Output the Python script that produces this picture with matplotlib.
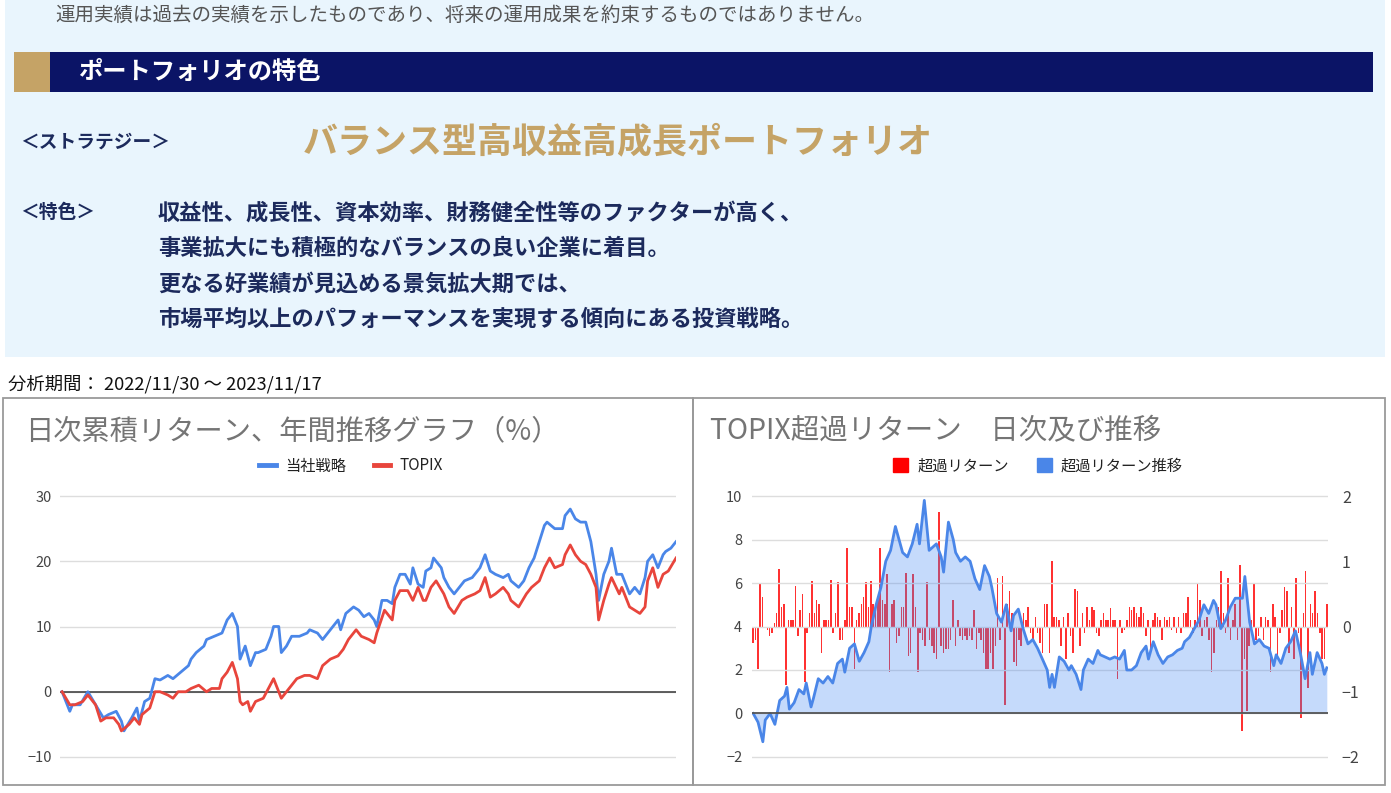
import numpy as np
import matplotlib.pyplot as plt
from matplotlib.patches import Rectangle, Patch
from matplotlib.lines import Line2D

plt.rcParams['font.family'] = ['Noto Sans CJK JP', 'DejaVu Sans']

# ---- data ----
strat_day = [0, 3, 4, 7, 10, 13, 16, 18, 21, 23, 24, 27, 29, 30, 32, 34, 36, 38, 41, 43,
             46, 49, 50, 52, 55, 56, 59, 62, 64, 66, 68, 69, 71, 73, 75, 76, 79, 81, 82, 84,
             85, 87, 89, 92, 95, 96, 99, 101, 103, 105, 107, 108, 110, 113, 115, 117, 119, 121, 122, 124,
             126, 128, 129, 131, 133, 135, 136, 138, 140, 141, 143, 144, 147, 148, 150, 152, 154, 156, 159, 161,
             162, 164, 166, 168, 171, 173, 174, 177, 179, 181, 183, 185, 187, 188, 191, 194, 195, 197, 199, 201,
             203, 205, 207, 208, 210, 212, 213, 215, 217, 219, 220, 222, 224, 226, 227, 229, 231, 233, 234, 236, 238]
strat_ret = [0, -3, -2, -2, 0, -2, -4, -3.5, -3, -4.5, -6, -4, -2.5, -4.5, -1.5, -1, 2, 1.8, 2.5, 2,
             3, 4, 5, 6, 7, 8, 8.5, 9, 11, 12, 10, 5, 7, 4, 6, 6, 6.5, 8.5, 10, 10,
             6, 7, 8.5, 8.5, 9, 9.5, 9, 8, 9, 10, 11, 9.5, 12, 13, 12.5, 11.5, 12, 11, 10, 14,
             14, 13.5, 16, 18, 18, 16.5, 19, 16.5, 16, 18.5, 19, 20.5, 19, 17.5, 16, 15, 16, 17, 17.5, 18.5,
             19, 21, 18.5, 18, 17.5, 18, 17, 16, 17, 19, 20.5, 23, 25.5, 26, 25, 25, 27, 28, 26.5, 26,
             26, 23, 18, 14, 18, 20, 22, 18, 18, 16, 15, 16, 15, 17.5, 20, 21, 19, 21, 21.5, 22, 23]

topix_day = [0, 3, 5, 8, 10, 13, 15, 17, 20, 22, 23, 26, 28, 30, 31, 34, 36, 38, 41, 43,
             45, 48, 50, 53, 56, 58, 61, 62, 64, 66, 68, 69, 70, 72, 73, 75, 78, 80, 82, 83,
             85, 87, 89, 91, 94, 96, 99, 101, 104, 107, 109, 111, 114, 116, 119, 121, 122, 125, 128, 129,
             131, 134, 136, 138, 140, 141, 143, 145, 148, 150, 152, 155, 157, 160, 162, 164, 166, 168, 171, 173,
             174, 177, 180, 182, 185, 187, 189, 191, 194, 195, 197, 199, 201, 203, 205, 207, 208, 210, 212, 213,
             216, 217, 219, 220, 222, 224, 226, 227, 229, 231, 233, 235, 238]
topix_ret = [0, -2, -2, -1.5, -0.5, -2, -4.5, -4, -4, -5, -6, -5, -4, -5, -3.5, -2.5, 0, 0, -0.5, -1,
             0, 0, 0.5, 1, 0, 0.5, 0.5, 2, 3, 4.5, 2, -1.5, -2, -1.5, -3, -1.5, -1, 0.5, 2, 1,
             -1, 0, 1, 2, 2.5, 2.5, 2, 4, 5, 5.5, 6.5, 8, 9.5, 8.5, 8, 7.5, 9, 12.5, 11, 14,
             15.5, 15.5, 14, 16, 14, 14, 16, 17, 15, 13, 12, 14, 14.5, 15, 15.5, 17.5, 14.5, 15, 16, 15,
             14, 13, 15, 16, 17, 19, 20.5, 19, 19.5, 21, 22.5, 21, 20, 19.5, 18, 16, 11, 14, 16.5, 17.5,
             15, 16, 14, 13, 12.5, 12, 13, 17, 19, 16, 18, 18.5, 20.5]

excess_day = [0, 2, 4, 5, 7, 9, 11, 13, 14, 15, 17, 19, 21, 22, 24, 25, 27, 29, 31, 33,
              35, 37, 38, 40, 42, 44, 46, 48, 49, 51, 53, 55, 57, 59, 61, 62, 64, 66, 68, 69,
              71, 73, 74, 76, 78, 79, 81, 83, 84, 86, 88, 90, 92, 94, 96, 98, 99, 101, 103, 105,
              107, 108, 110, 112, 114, 116, 118, 120, 122, 123, 124, 125, 127, 129, 131, 132, 134, 136, 137, 139,
              141, 143, 144, 146, 148, 150, 152, 154, 155, 157, 159, 161, 163, 164, 166, 168, 170, 172, 174, 176,
              178, 179, 181, 183, 185, 187, 189, 191, 192, 194, 196, 198, 200, 202, 203, 204, 206, 208, 210, 212,
              214, 216, 217, 219, 221, 223, 225, 227, 228, 229, 231, 232, 234, 236, 237, 238]
excess_cum = [0, -0.4, -1.3, -0.3, 0, -0.5, 0.6, 0.8, 1.2, 0.2, 0.5, 1.1, 0.9, 1.4, 0.3, 0.7, 1.6, 1.4, 1.7, 1.4,
              2.3, 2.5, 1.9, 3.0, 3.2, 2.4, 2.8, 3.3, 4.0, 5.0, 5.8, 7.0, 7.5, 8.6, 7.8, 7.4, 7.2, 7.8, 8.7, 7.8,
              9.8, 7.5, 7.6, 7.8, 7.2, 6.5, 8.8, 8.0, 7.4, 7.0, 7.2, 7.0, 6.2, 5.7, 6.8, 6.3, 5.8, 4.6, 4.2, 5.0,
              3.8, 4.5, 4.8, 3.9, 3.2, 3.4, 3.0, 2.5, 2.0, 1.2, 1.8, 1.2, 2.6, 2.4, 2.0, 2.2, 1.8, 1.1, 2.0, 2.5,
              2.3, 2.9, 2.7, 2.6, 2.5, 2.6, 2.5, 2.9, 2.0, 2.0, 2.2, 2.8, 3.1, 2.5, 3.3, 2.7, 2.3, 2.6, 2.7, 2.9,
              3.0, 3.3, 3.5, 3.9, 4.3, 5.0, 4.6, 5.2, 5.0, 3.9, 4.3, 4.9, 5.3, 5.3, 5.3, 6.3, 4.2, 3.2, 3.4, 3.1,
              3.0, 2.2, 2.7, 2.3, 3.0, 3.3, 3.8, 2.8, 2.2, 1.6, 2.8, 1.8, 2.8, 2.3, 1.8, 2.1]

excess_daily = [-0.25, -0.2, -0.65, 0.65, 0.45, 0, -0.05, -0.15, -0.1, 0.05, 0.2, 0.88, 0.3, 0.35, -0.9, 0.1,
                0.1, 0.1, 0.62, -0.15, 0.25, 0.5, -0.85, -0.1, 0.2, 0.7, 0.2, 0.4, 0.35, -0.4, 0.1, 0.1,
                0.1, 0.72, -0.1, 0.2, 0.68, -0.2, -0.2, 0.1, 1.2, 0.3, 0.3, -0.65, 0.1, 0.2, 0.35, 0.45,
                0.68, 0.3, 0.7, 0.35, 0.35, 0.4, 1.2, 0.4, 0.35, 0.8, -0.7, 0.35, 0.4, -0.25, -0.15, 0.3,
                0.3, 0.82, -0.45, -0.4, 0.8, 0.3, -0.7, -0.1, -0.2, -0.3, 0.68, -0.2, -0.3, -0.4, -0.5, 1.75,
                -0.3, -0.4, -0.35, -0.35, -0.2, 0.4, -0.3, 0.1, -0.15, -0.2, -0.15, -0.2, -0.15, -0.2, 0.25, -0.35,
                -0.1, -0.2, -0.4, -0.65, -0.65, -0.4, -0.65, -0.3, 0.75, -0.2, 0.78, -1.2, 0.35, 0.55, 0.2, -0.55,
                -0.6, -0.2, -0.3, 0.2, 0.1, 0.3, -0.1, -0.2, 0.15, -0.1, -0.25, -0.4, 0.35, 0.35, -0.4, 1.0,
                0.15, 0.15, 0.1, -0.3, 0.15, -0.5, 0.2, -0.15, -0.4, 0.58, 0.55, -0.3, 0.2, -0.1, 0.3, 0.1,
                0.3, 0.25, -0.1, -0.15, 0.1, 0.2, 0.1, 0.1, 0.28, 0.1, 0.1, -0.8, 0.1, -0.1, -0.05, 0.1,
                0.3, 0.25, 0.3, 0.2, 0.15, 0.3, 0.2, -0.15, 0.1, -0.4, 0.1, 0.2, 0.15, 0.1, -0.2, 0.15,
                0.1, 0.15, -0.05, 0.15, -0.1, 0.15, -0.1, 0.2, 0.2, 0.45, 0.1, -0.1, 0.1, 0.65, 0.4, -0.15,
                0.1, 0.15, -0.2, -0.7, -0.4, 0.1, 0.3, 0.85, 0.2, -0.1, 0.75, -0.2, 0.1, 0.35, -0.2, 0.95,
                -1.6, -0.5, -1.3, -0.3, 0.1, 0.65, -0.2, -0.15, 0.15, -0.2, 0.15, 0.1, -0.7, 0.35, 0.15, -0.45,
                -0.1, 0.25, 0.6, 0.55, -0.4, 0.3, -0.5, 0.75, -0.1, -1.4, 0.2, 0.85, -0.95, 0.35, 0.2, 0.55,
                0.2, -0.1, -0.5, -0.5, 0.35]

left_ticks = [-10, 0, 10, 20, 30]
right_left_ticks = [-2, 0, 2, 4, 6, 8, 10]
right_right_ticks = [-2, -1, 0, 1, 2]

BLUE = '#4A86E8'
RED = '#E8453C'
NAVY = '#0B1466'
GOLD = '#C5A366'
TXT = '#1C2A5C'

W, H = 1391, 793


def fx(x):
    return x / W


def fy(y):
    return 1 - y / H


fig = plt.figure(figsize=(W / 100, H / 100), dpi=100)
fig.patch.set_facecolor('white')

# light blue info panel
fig.add_artist(Rectangle((fx(5), fy(357)), fx(1385) - fx(5), fy(0) - fy(357),
                         transform=fig.transFigure, facecolor='#E9F5FD', edgecolor='none', zorder=0))
fig.text(fx(55), fy(15), '運用実績は過去の実績を示したものであり、将来の運用成果を約束するものではありません。',
         fontsize=14, color='#555555', va='center', ha='left')

# header bar
fig.add_artist(Rectangle((fx(14), fy(92)), fx(50) - fx(14), fy(52) - fy(92),
                         transform=fig.transFigure, facecolor=GOLD, edgecolor='none'))
fig.add_artist(Rectangle((fx(50), fy(92)), fx(1373) - fx(50), fy(52) - fy(92),
                         transform=fig.transFigure, facecolor=NAVY, edgecolor='none'))
fig.text(fx(78), fy(72), 'ポートフォリオの特色', fontsize=17.5, color='white',
         fontweight='bold', va='center', ha='left')

fig.text(fx(20), fy(142), '＜ストラテジー＞', fontsize=13.5, color=TXT, fontweight='bold',
         va='center', ha='left')
fig.text(fx(303), fy(142), 'バランス型高収益高成長ポートフォリオ', fontsize=25.2, color=GOLD,
         fontweight='bold', va='center', ha='left')
fig.text(fx(20), fy(212), '＜特色＞', fontsize=13.5, color=TXT, fontweight='bold',
         va='center', ha='left')
lines = ['収益性、成長性、資本効率、財務健全性等のファクターが高く、',
         '事業拡大にも積極的なバランスの良い企業に着目。',
         '更なる好業績が見込める景気拡大期では、',
         '市場平均以上のパフォーマンスを実現する傾向にある投資戦略。']
for i, s in enumerate(lines):
    fig.text(fx(158), fy(213 + i * 35.5), s, fontsize=16, color=TXT,
             fontweight='bold', va='center', ha='left')

fig.text(fx(8), fy(384), '分析期間： 2022/11/30 ～ 2023/11/17', fontsize=13.2, color='#111111',
         va='center', ha='left')

# chart frames
for x0, x1 in [(3, 693), (693, 1385)]:
    fig.add_artist(Rectangle((fx(x0), fy(785)), fx(x1) - fx(x0), fy(398) - fy(785),
                             transform=fig.transFigure, facecolor='none',
                             edgecolor='#9A9A9A', lw=1.3))

fig.text(fx(25), fy(431), '日次累積リターン、年間推移グラフ（%）', fontsize=20.3, color='#757575',
         va='center', ha='left')
fig.text(fx(710), fy(431), 'TOPIX超過リターン　日次及び推移', fontsize=20.5, color='#757575',
         va='center', ha='left')

# ---- left chart ----
ax = fig.add_axes([fx(60), fy(763.5), fx(676) - fx(60), fy(489.5) - fy(763.5)])
ax.set_facecolor('none')
ax.plot(strat_day, strat_ret, color=BLUE, lw=2, zorder=3)
ax.plot(topix_day, topix_ret, color=RED, lw=2, zorder=3)
ax.set_xlim(-0.8, 238)
ax.set_ylim(-11, 31)
ax.set_yticks(left_ticks)
ax.set_xticks([])
ax.grid(axis='y', color='#DDDDDD', lw=1)
ax.axhline(0, color='#444444', lw=1.2, zorder=2)
for sp in ax.spines.values():
    sp.set_visible(False)
ax.tick_params(axis='y', length=0, pad=6, labelsize=10.5, labelcolor='#444444')

fig.legend(handles=[Line2D([], [], color=BLUE, lw=3.5), Line2D([], [], color=RED, lw=3.5)],
           labels=['当社戦略', 'TOPIX'], loc='center', bbox_to_anchor=(fx(351), fy(466)),
           ncol=2, frameon=False, fontsize=11, handlelength=1.1, columnspacing=1.8,
           handletextpad=0.6, labelcolor='#222222')

# ---- right chart ----
axb = fig.add_axes([fx(752), fy(763.5), fx(1328) - fx(752), fy(489.5) - fy(763.5)])
axb.set_facecolor('none')
bar_x = np.linspace(0, 238, len(excess_daily))
axb.bar(bar_x, excess_daily, width=0.65, color='#FF1A1A', alpha=0.9, zorder=1)
axb.set_ylim((-2.3 - 4) / 3, (10.3 - 4) / 3)
axb.set_xlim(-0.5, 238.5)
axb.set_xticks([])
for sp in axb.spines.values():
    sp.set_visible(False)

axl = axb.twinx()
# twinx moves the original axis ticks to the left; put them back on the right
axb.yaxis.tick_right()
axb.set_yticks(right_right_ticks)
axb.tick_params(axis='y', length=0, pad=10, labelsize=11.5, labelcolor='#444444',
                left=False, labelleft=False, right=True, labelright=True)

axl.yaxis.tick_left()
axl.fill_between(excess_day, excess_cum, 0, color='#4285F4', alpha=0.3, lw=0, zorder=2)
axl.plot(excess_day, excess_cum, color=BLUE, lw=2, zorder=3)
axl.set_ylim(-2.3, 10.3)
axl.set_yticks(right_left_ticks)
axl.set_xlim(-0.5, 238.5)
axl.grid(axis='y', color='#DDDDDD', lw=1, zorder=0)
axl.axhline(0, color='#555555', lw=1.3, zorder=4)
for sp in axl.spines.values():
    sp.set_visible(False)
axl.tick_params(axis='y', length=0, pad=7, labelsize=10.5, labelcolor='#444444',
                left=True, right=False, labelleft=True, labelright=False)

fig.legend(handles=[Patch(color='#FF0000'), Patch(color=BLUE)],
           labels=['超過リターン', '超過リターン推移'], loc='center',
           bbox_to_anchor=(fx(1038), fy(466)), ncol=2, frameon=False, fontsize=11,
           handlelength=1.0, handleheight=1.0, columnspacing=1.8, handletextpad=0.6,
           labelcolor='#222222')

fig.savefig('out.png', dpi=100)
